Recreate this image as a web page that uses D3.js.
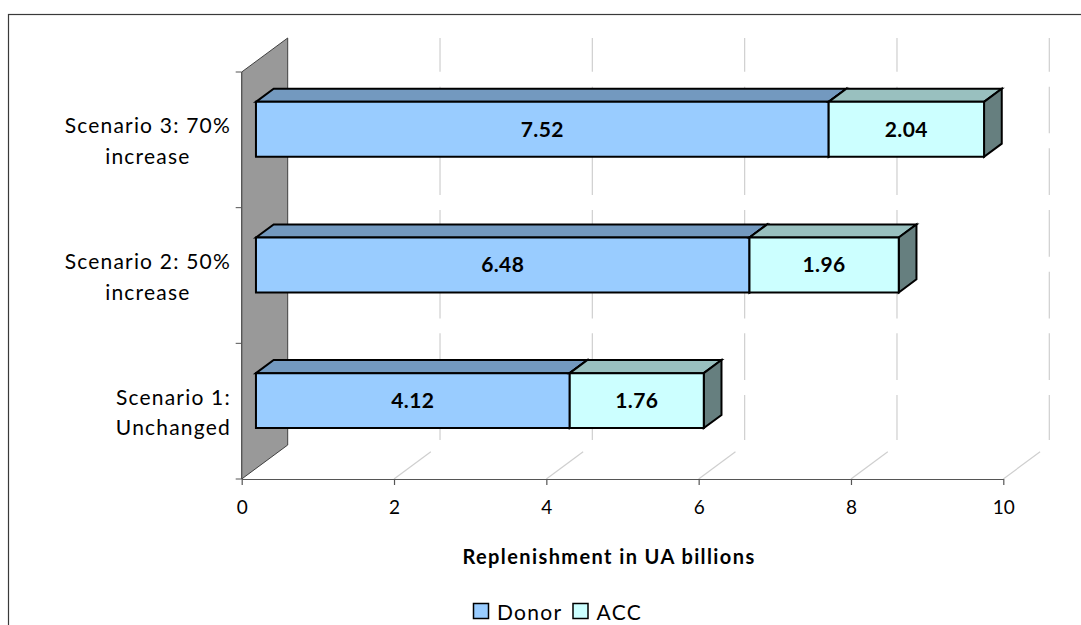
<!DOCTYPE html>
<html>
<head>
<meta charset="utf-8">
<script src="https://cdn.jsdelivr.net/npm/d3@7"></script>
<style>
  html, body { margin: 0; padding: 0; background: #fff; }
  svg { display: block; }
  text { font-family: Lato, "Open Sans", sans-serif; }
</style>
</head>
<body>
<svg id="chart" width="1081" height="625"></svg>
<script>
// ---------- data ----------
const categories = [
  ["Scenario 1:", "Unchanged"],
  ["Scenario 2: 50%", "increase"],
  ["Scenario 3: 70%", "increase"]
];
const categoryKeys = ["s1", "s2", "s3"];
const donorValues = [4.12, 6.48, 7.52];
const accValues = [1.76, 1.96, 2.04];
const seriesNames = ["Donor", "ACC"];
const tickValues = [0, 2, 4, 6, 8, 10];
const axisTitle = "Replenishment in UA billions";

// ---------- styling / layout ----------
const DX = 46, DY = 34;          // depth projection of full floor depth
const Z0 = 0.31, Z1 = 0.695;     // bar depth span
const colors = {
  Donor: { front: "#99CCFF", top: "#7399BF", side: "#4D6680" },
  ACC:   { front: "#CCFFFF", top: "#99C0BF", side: "#667F7F" }
};
const gridColor = "#cfcfcf";

const svg = d3.select("#chart");

// chart area border
svg.append("rect")
  .attr("x", 8.5).attr("y", 14.5)
  .attr("width", 1100).attr("height", 700)
  .attr("fill", "#fff").attr("stroke", "#3a3a3a").attr("stroke-width", 1.2);

const x = d3.scaleLinear().domain([0, 10]).range([241.7, 1003.3]);
const y = d3.scaleBand().domain(categoryKeys.slice().reverse()).range([72, 479]);
const floorY = 479, wallTop = 72;

const proj = (v, yFront, z) => [x(v) + z * DX, yFront - z * DY];

// ---------- back wall gridlines (segmented, as in the original rendering) ----------
const backTop = wallTop - DY, backBottom = floorY - DY;
const SEG_PERIOD = 61.67, SEG_LEN = 46.7, SEG_OFF = -13, SEG_CLIP = 5;
const gridG = svg.append("g");
tickValues.filter(v => v > 0).forEach(v => {
  const gx = x(v) + DX;
  for (let s = backTop + SEG_OFF; s < backBottom; s += SEG_PERIOD) {
    const a = Math.max(s, backTop), b = Math.min(s + SEG_LEN, backBottom - SEG_CLIP);
    if (b > a) {
      gridG.append("line")
        .attr("x1", gx).attr("x2", gx).attr("y1", a).attr("y2", b)
        .attr("stroke", gridColor).attr("stroke-width", 1.2);
    }
  }
  const p0 = proj(v, floorY, 0), p1 = proj(v, floorY, 0.8);
  gridG.append("line")
    .attr("x1", p0[0]).attr("y1", p0[1]).attr("x2", p1[0]).attr("y2", p1[1])
    .attr("stroke", gridColor).attr("stroke-width", 1.2);
});

// ---------- left side wall ----------
const wall = [proj(0, wallTop, 0), proj(0, wallTop, 1), proj(0, floorY, 1), proj(0, floorY, 0)];
svg.append("polygon")
  .attr("points", wall.map(p => p.join(",")).join(" "))
  .attr("fill", "#999999").attr("stroke", "#404040").attr("stroke-width", 1);

// category axis ticks
const catTicks = [wallTop].concat(y.domain().map(k => y(k) + y.bandwidth()));
svg.append("g").selectAll("line").data(catTicks).join("line")
  .attr("x1", x(0) - 6).attr("x2", x(0)).attr("y1", d => d).attr("y2", d => d)
  .attr("stroke", "#555").attr("stroke-width", 1);
svg.append("line").attr("x1", x(0)).attr("x2", x(0)).attr("y1", wallTop).attr("y2", floorY)
  .attr("stroke", "#555").attr("stroke-width", 1);

// ---------- value axis ----------
const axisG = svg.append("g")
  .attr("transform", `translate(0,${floorY})`)
  .call(d3.axisBottom(x).tickValues(tickValues).tickSize(6).tickPadding(16).tickSizeOuter(0));
axisG.select(".domain").attr("stroke", "#555").attr("stroke-width", 1.2);
axisG.selectAll(".tick line").attr("stroke", "#555").attr("stroke-width", 1.2);
axisG.selectAll(".tick text")
  .attr("font-family", "Lato, sans-serif").attr("font-size", 19).attr("fill", "#000");

// ---------- bars ----------
const barH = y.bandwidth() * 0.405;
const barsG = svg.append("g");
categoryKeys.forEach((k, i) => {
  const c = y(k) + y.bandwidth() / 2;
  const yt = c - barH / 2, yb = c + barH / 2;
  const segs = [
    { name: "Donor", v0: 0, v1: donorValues[i], val: donorValues[i] },
    { name: "ACC", v0: donorValues[i], v1: donorValues[i] + accValues[i], val: accValues[i] }
  ];
  segs.forEach(s => {
    const col = colors[s.name];
    const poly = pts => barsG.append("polygon")
      .attr("points", pts.map(p => p.join(",")).join(" "))
      .attr("stroke", "#000").attr("stroke-width", 2).attr("stroke-linejoin", "miter");
    poly([proj(s.v0, yt, Z0), proj(s.v0, yt, Z1), proj(s.v1, yt, Z1), proj(s.v1, yt, Z0)])
      .attr("fill", col.top);
    poly([proj(s.v1, yt, Z0), proj(s.v1, yt, Z1), proj(s.v1, yb, Z1), proj(s.v1, yb, Z0)])
      .attr("fill", col.side);
    poly([proj(s.v0, yt, Z0), proj(s.v1, yt, Z0), proj(s.v1, yb, Z0), proj(s.v0, yb, Z0)])
      .attr("fill", col.front);
    const lp = proj((s.v0 + s.v1) / 2, c, Z0);
    barsG.append("text")
      .attr("x", lp[0]).attr("y", lp[1] + 7.5)
      .attr("text-anchor", "middle")
      .attr("font-size", 21).attr("font-weight", "bold").attr("fill", "#000")
      .attr("letter-spacing", 0.4)
      .text(s.val.toFixed(2));
  });
});

// ---------- category labels ----------
const labG = svg.append("g");
categoryKeys.forEach((k, i) => {
  const c = y(k) + y.bandwidth() / 2;
  const g = labG.append("g");
  const lines = categories[i];
  const texts = lines.map((t, j) => g.append("text")
    .attr("y", j === 0 ? c - 6.5 : c + 24)
    .attr("text-anchor", "middle")
    .attr("font-size", 21).attr("letter-spacing", 1.2).attr("fill", "#000")
    .text(t));
  const maxW = d3.max(texts, t => t.node().getComputedTextLength());
  const cx = 231 - maxW / 2;
  texts.forEach(t => t.attr("x", cx));
});

// ---------- axis title ----------
svg.append("text")
  .attr("x", 609).attr("y", 563.5)
  .attr("text-anchor", "middle")
  .attr("font-size", 20).attr("font-weight", "bold").attr("fill", "#000")
  .attr("letter-spacing", 1.4)
  .text(axisTitle);

// ---------- legend ----------
const legG = svg.append("g");
const legX = [473.5, 573];
seriesNames.forEach((n, i) => {
  legG.append("rect")
    .attr("x", legX[i]).attr("y", 603.5).attr("width", 15).attr("height", 15)
    .attr("fill", colors[n].front).attr("stroke", "#000").attr("stroke-width", 1.5);
  legG.append("text")
    .attr("x", legX[i] + 23.5).attr("y", 619.5)
    .attr("font-size", 21).attr("letter-spacing", 1.3).attr("fill", "#000")
    .text(n);
});
</script>
</body>
</html>
